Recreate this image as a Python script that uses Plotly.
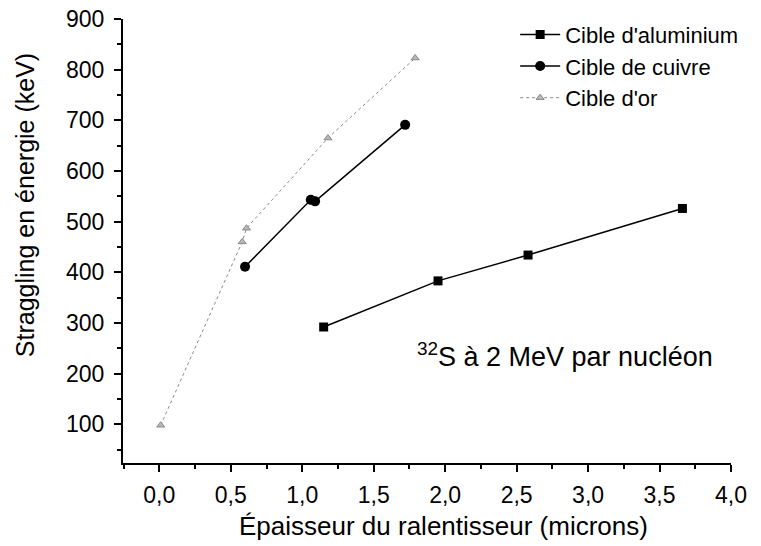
import plotly.graph_objects as go

# Data
al_x = [1.15, 1.95, 2.58, 3.66]
al_y = [292, 383, 434, 526]
cu_x = [0.60, 1.06, 1.09, 1.72]
cu_y = [411, 543, 540, 691]
au_x = [0.01, 0.58, 0.61, 1.18, 1.79]
au_y = [98, 460, 487, 665, 823]

names = ["Cible d'aluminium", "Cible de cuivre", "Cible d'or"]
x_title = "Épaisseur du ralentisseur (microns)"
y_title = "Straggling en énergie (keV)"
note = "<sup>32</sup>S à 2 MeV par nucléon"

FONT = "Liberation Sans, Arial, Helvetica, sans-serif"

fig = go.Figure()
fig.add_trace(go.Scatter(x=al_x, y=al_y, name=names[0], mode="lines+markers",
                         line=dict(color="black", width=1.5),
                         marker=dict(symbol="square", size=9, color="black")))
fig.add_trace(go.Scatter(x=cu_x, y=cu_y, name=names[1], mode="lines+markers",
                         line=dict(color="black", width=1.5),
                         marker=dict(symbol="circle", size=10, color="black")))
fig.add_trace(go.Scatter(x=au_x, y=au_y, name=names[2], mode="lines+markers",
                         line=dict(color="#8a8a8a", width=1, dash="dot"),
                         marker=dict(symbol="triangle-up", size=7, color="#b8b8b8",
                                     line=dict(color="#888888", width=1))))

fig.add_annotation(text=note, xref="paper", yref="paper", x=0.48, y=0.243,
                   xanchor="left", yanchor="middle", showarrow=False,
                   font=dict(family=FONT, size=27, color="black"))
# axis titles (placed as in the reference, slightly off-centre)
fig.add_annotation(text=x_title, xref="paper", yref="paper", x=0.527, y=-0.142,
                   xanchor="center", yanchor="middle", showarrow=False,
                   font=dict(family=FONT, size=26, color="black"))
fig.add_annotation(text=y_title, xref="paper", yref="paper", x=-0.161, y=0.581,
                   xanchor="center", yanchor="middle", showarrow=False, textangle=-90,
                   font=dict(family=FONT, size=25, color="black"))

fig.update_layout(
    width=761, height=546,
    margin=dict(l=123, r=30, t=19, b=83, autoexpand=False),
    paper_bgcolor="white", plot_bgcolor="white",
    separators=", ",
    font=dict(family=FONT, size=23, color="black"),
    showlegend=True,
    legend=dict(x=0.645, y=1.012, xanchor="left", yanchor="top",
                bgcolor="rgba(0,0,0,0)", font=dict(size=22, family=FONT),
                tracegroupgap=0, itemwidth=40),
)
fig.update_xaxes(range=[-0.254, 4.0], tickmode="linear", tick0=0, dtick=0.5,
                 tickformat=".1f", showgrid=False, zeroline=False,
                 showline=True, linecolor="black", linewidth=2,
                 ticks="outside", ticklen=7, tickwidth=2, tickcolor="black",
                 ticklabelstandoff=3, automargin=False, ticklabeloverflow="allow",
                 minor=dict(ticks="outside", ticklen=4, tickwidth=1.5, dtick=0.25, tick0=0,
                            tickcolor="black"),
                 tickfont=dict(size=23))
fig.update_yaxes(range=[23.5, 900], tickmode="linear", tick0=100, dtick=100,
                 showgrid=False, zeroline=False,
                 showline=True, linecolor="black", linewidth=2,
                 ticks="outside", ticklen=7, tickwidth=1.5, tickcolor="black",
                 ticklabelstandoff=5, automargin=False, ticklabeloverflow="allow",
                 minor=dict(ticks="outside", ticklen=4, tickwidth=1.5, dtick=50, tick0=50,
                            tickcolor="black"),
                 tickfont=dict(size=23))

fig.write_html("out.html", config={"displayModeBar": False},
               post_script="document.body.style.margin='0px';document.body.style.overflow='hidden';")
